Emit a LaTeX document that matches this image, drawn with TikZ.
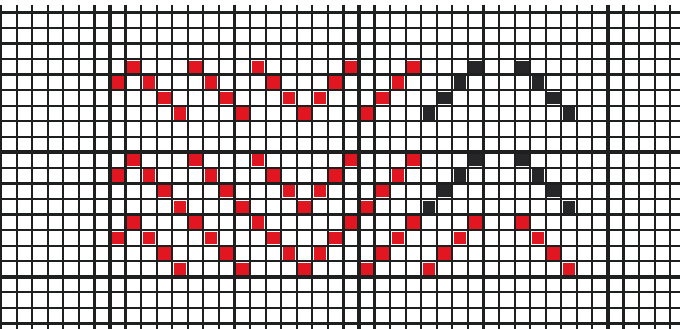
\documentclass[tikz,border=0pt]{standalone}
\usepackage{tikz}
\usetikzlibrary{calc}

\definecolor{stitchred}{RGB}{226,22,32}
\definecolor{stitchdark}{RGB}{38,38,40}
\definecolor{gridink}{RGB}{30,32,32}

\begin{document}
\begin{tikzpicture}[x=0.4cm, y=-0.4cm,
    gridline/.style={draw=gridink, line width=1.6pt},
    majorline/.style={draw=gridink, line width=2.8pt},
    redstitch/.style={fill=stitchred},
    darkstitch/.style={fill=stitchdark}]
    \useasboundingbox[fill=white] (-7.07,-9.79) rectangle (36.63,11.35);

    % Grid
    \foreach \c in {-7,...,36}
        \draw[gridline] (\c,-9.5) -- (\c,11.35);
    \foreach \r in {-9,...,11}
        \draw[gridline] (-7.07,\r) -- (36.63,\r);

    % Heavy lines every 8 squares
    \foreach \c in {0,8,...,32}
        \draw[majorline] (\c,-9.5) -- (\c,11.35);
    \foreach \r in {0,8}
        \draw[majorline] (-7.07,\r) -- (36.63,\r);
    \draw[line width=2.2pt, draw=gridink] (-7.07,-9) -- (36.63,-9);

    % Red zigzags, three bands
    \foreach \b in {-6,0,4}
        \foreach \c/\r in {0/1,1/0,2/1,3/2,4/3,5/0,6/1,7/2,8/3,9/0,10/1,11/2,12/3,
                           13/2,14/1,15/0,16/3,17/2,18/1,19/0}
            \fill[redstitch] (\c+0.1,\b+\r+0.1) rectangle (\c+0.9,\b+\r+0.9);

    % Last peak: dark in the two upper bands, red in the lowest
    \foreach \b/\s in {-6/darkstitch,0/darkstitch,4/redstitch}
        \foreach \c/\r in {20/3,21/2,22/1,23/0,26/0,27/1,28/2,29/3}
            \fill[\s] (\c+0.1,\b+\r+0.1) rectangle (\c+0.9,\b+\r+0.9);
\end{tikzpicture}
\end{document}
